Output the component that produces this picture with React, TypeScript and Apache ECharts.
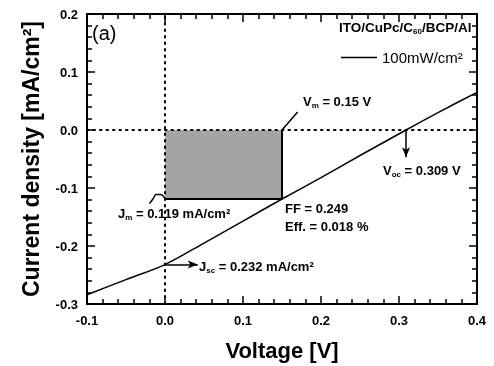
import React, { useEffect, useRef } from "react";
import * as echarts from "echarts";

// I-V curve under illumination (100 mW/cm^2)
const voltage = [-0.1, -0.05, 0, 0.05, 0.1, 0.15, 0.2, 0.25, 0.309, 0.35, 0.4];
const current = [-0.284, -0.258, -0.232, -0.195, -0.157, -0.119, -0.082, -0.044, 0, 0.03, 0.065];

// Key device parameters
const vm = 0.15;
const jm = -0.119;
const voc = 0.309;
const jsc = -0.232;

// Leader lines / arrows (data coordinates)
const vmLeader = [[vm, 0], [0.17, 0.031]];
const jmLeader = [[0, jm], [-0.006, -0.111], [-0.011, -0.111], [-0.015, -0.118], [-0.02, -0.127]];
const vocArrowEnd = -0.047;
const jscArrowEnd = 0.042;

const seriesName = "100mW/cm²";
const xMin = -0.1, xMax = 0.4, yMin = -0.3, yMax = 0.2, step = 0.1;

const F = "'Liberation Sans', Arial, Helvetica, sans-serif";

const richStyles = {
  n: { fontSize: 13, fontWeight: "bold", fontFamily: F, color: "#000", lineHeight: 16 },
  s: { fontSize: 8, fontWeight: "bold", fontFamily: F, color: "#000", lineHeight: 6, verticalAlign: "bottom" },
};

function annot(left: number, top: number, text: string, size = 13) {
  return {
    type: "text",
    left,
    top,
    silent: true,
    style: {
      text,
      rich: {
        n: { ...richStyles.n, fontSize: size },
        s: richStyles.s,
      },
    },
  };
}

export default function App() {
  const ref = useRef<HTMLDivElement>(null);
  useEffect(() => {
    if (!ref.current) return;
    const chart = echarts.init(ref.current, undefined, { renderer: "svg" });
    const curve = voltage.map((v, i) => [v, current[i]]);
    const mkAxis = () => ({
      type: "value",
      interval: step,
      axisLine: { show: true, onZero: false, lineStyle: { color: "#000", width: 2 } },
      axisTick: { show: true, inside: true, length: 8, lineStyle: { color: "#000", width: 1.5 } },
      minorTick: { show: true, splitNumber: 5, length: 5, lineStyle: { color: "#000", width: 1.5 } },
      splitLine: { show: false },
    });
    const lbl = { color: "#000", fontFamily: F, fontSize: 13, fontWeight: "bold" };
    const option = {
      animation: false,
      grid: { left: 87, right: 17, top: 14, bottom: 62 },
      title: {
        left: 339,
        top: 19,
        text: "{n|ITO/CuPc/C}{s|60}{n|/BCP/Al}",
        textStyle: {
          rich: {
            n: { fontSize: 13.5, fontWeight: "bold", fontFamily: F, color: "#000", lineHeight: 16 },
            s: { fontSize: 8, fontWeight: "bold", fontFamily: F, color: "#000", lineHeight: 6, verticalAlign: "bottom" },
          },
        },
        padding: 0,
      },
      legend: {
        data: [{ name: seriesName, icon: "rect" }],
        left: 341,
        top: 50,
        padding: 0,
        itemWidth: 36,
        itemHeight: 1.5,
        itemStyle: { color: "#000" },
        textStyle: { fontSize: 15, fontFamily: F, color: "#000" },
      },
      xAxis: [
        {
          ...mkAxis(),
          min: xMin,
          max: xMax,
          position: "bottom",
          name: "Voltage [V]",
          nameLocation: "middle",
          nameGap: 35,
          nameTextStyle: { fontSize: 22, fontWeight: "bold", fontFamily: F, color: "#000" },
          axisLabel: { ...lbl, margin: 10, formatter: (v: number) => v.toFixed(1) },
        },
        {
          ...mkAxis(),
          min: xMin,
          max: xMax,
          position: "top",
          axisLabel: { show: false },
        },
      ],
      yAxis: [
        {
          ...mkAxis(),
          min: yMin,
          max: yMax,
          position: "left",
          name: "Current density [mA/cm²]",
          nameLocation: "middle",
          nameGap: 45,
          nameTextStyle: { fontSize: 23, fontWeight: "bold", fontFamily: F, color: "#000" },
          axisLabel: { ...lbl, margin: 9, formatter: (v: number) => v.toFixed(1) },
        },
        {
          ...mkAxis(),
          min: yMin,
          max: yMax,
          position: "right",
          axisLabel: { show: false },
        },
      ],
      series: [
        {
          name: seriesName,
          type: "line",
          data: curve,
          smooth: 0.3,
          symbol: "none",
          lineStyle: { color: "#000", width: 1.5 },
          itemStyle: { color: "#000" },
          z: 5,
          markArea: {
            silent: true,
            itemStyle: { color: "#a4a4a4", opacity: 1 },
            data: [[{ coord: [0, 0] }, { coord: [vm, jm] }]],
          },
          markLine: {
            silent: true,
            symbol: "none",
            label: { show: false },
            lineStyle: { color: "#000", width: 2, type: [1.5, 5], cap: "round" },
            data: [{ xAxis: 0 }, { yAxis: 0 }],
          },
        },
        {
          name: "rect",
          type: "line",
          data: [[0, jm], [vm, jm], [vm, 0]],
          symbol: "none",
          lineStyle: { color: "#000", width: 2 },
          z: 6,
        },
        {
          name: "vmLeader",
          type: "line",
          data: vmLeader,
          symbol: "none",
          lineStyle: { color: "#000", width: 1.5 },
        },
        {
          name: "jmLeader",
          type: "line",
          data: jmLeader,
          smooth: true,
          symbol: "none",
          lineStyle: { color: "#000", width: 1.5 },
        },
        {
          name: "vocArrow",
          type: "line",
          data: [],
          markLine: {
            silent: true,
            symbol: ["none", "arrow"],
            symbolSize: [6, 10],
            label: { show: false },
            lineStyle: { color: "#000", width: 1.5, type: "solid" },
            data: [[{ coord: [voc, 0] }, { coord: [voc, vocArrowEnd] }]],
          },
        },
        {
          name: "jscArrow",
          type: "line",
          data: [],
          markLine: {
            silent: true,
            symbol: ["none", "arrow"],
            symbolSize: [6, 10],
            label: { show: false },
            lineStyle: { color: "#000", width: 1.5, type: "solid" },
            data: [[{ coord: [0, jsc] }, { coord: [jscArrowEnd, jsc] }]],
          },
        },
      ],
      graphic: [
        {
          type: "text",
          left: 92,
          top: 23,
          silent: true,
          style: { text: "(a)", fontSize: 20, fontFamily: F, fill: "#000" },
        },
        annot(303, 95, "{n|V}{s|m}{n| = 0.15 V}"),
        annot(383, 164, "{n|V}{s|oc}{n| = 0.309 V}"),
        annot(118, 207, "{n|J}{s|m}{n| = 0.119 mA/cm²}"),
        annot(285, 202, "{n|FF = 0.249}"),
        annot(285, 220, "{n|Eff. = 0.018 %}"),
        annot(199, 260, "{n|J}{s|sc}{n| = 0.232 mA/cm²}"),
      ],
    };
    chart.setOption(option as any);
    return () => chart.dispose();
  }, []);
  return (
    <div
      ref={ref}
      style={{ position: "fixed", left: 0, top: 0, width: 494, height: 366 }}
    />
  );
}
